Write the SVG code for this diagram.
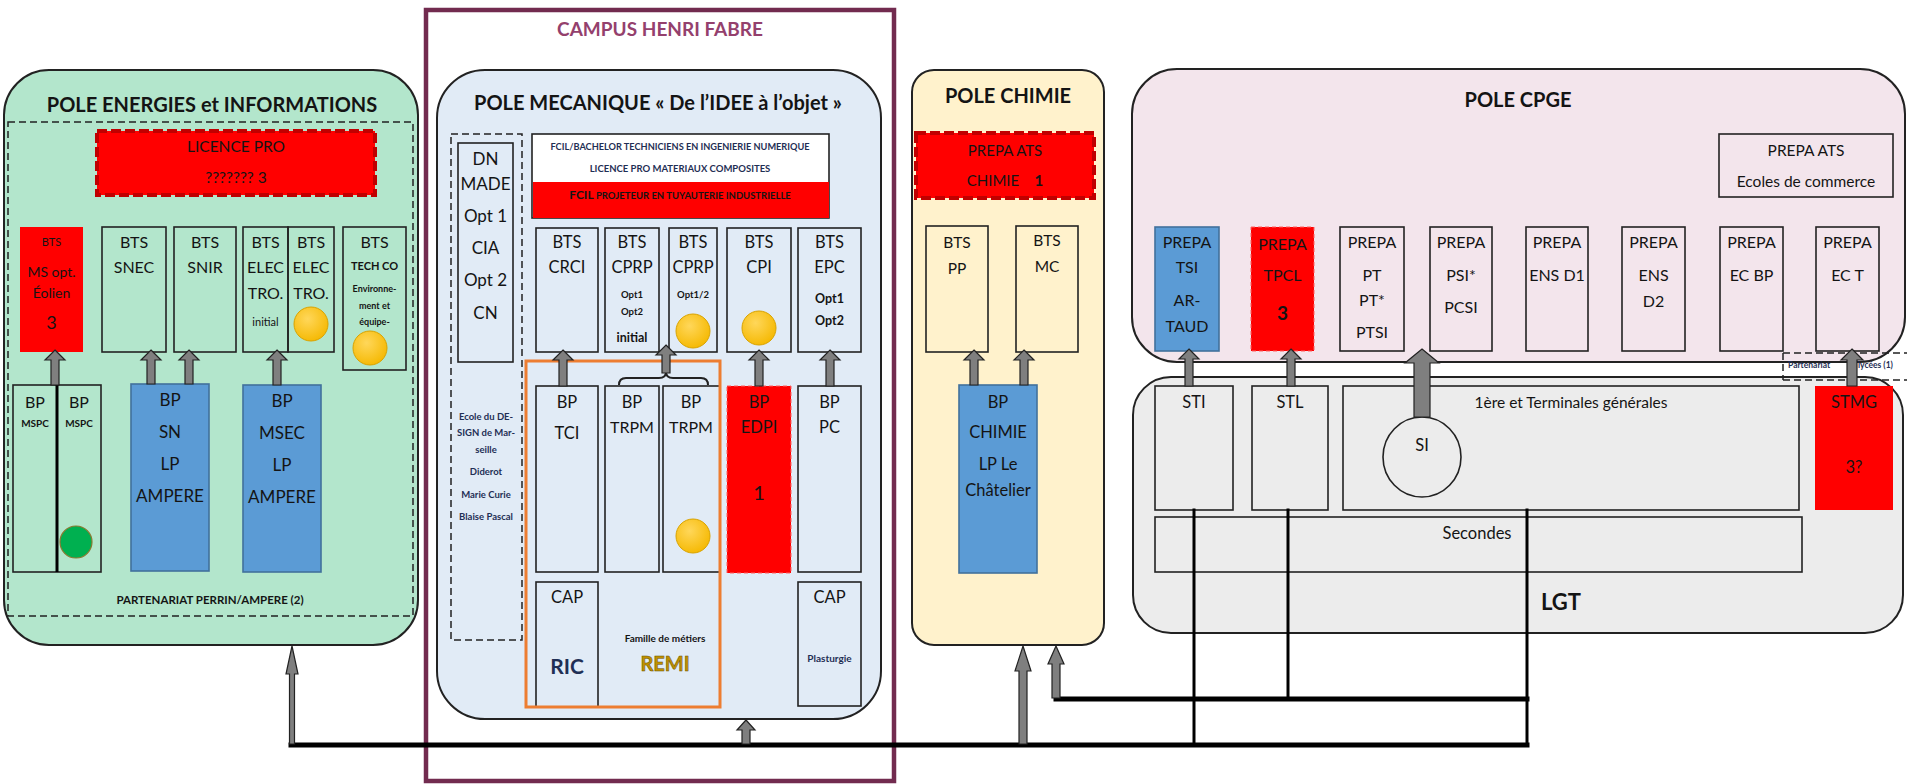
<svg xmlns="http://www.w3.org/2000/svg" width="1907" height="784" viewBox="0 0 1907 784">
<style>
text{font-family:Lato,"Open Sans","Liberation Sans",sans-serif;text-anchor:middle;fill:#141414}
.b{font-weight:bold}
.n{fill:#1f2f55}
.pole{stroke:#222;stroke-width:2}
.wb{stroke:#222;stroke-width:1.6}
.blue{fill:#5b9bd5;stroke:#41719c;stroke-width:1.6}
.red{fill:#ff0000}
.rdash{fill:#ff0000;stroke:#c00000;stroke-width:4;stroke-dasharray:10 4}
.dash{fill:none;stroke:#222;stroke-width:1.5;stroke-dasharray:7 4}
.blk{fill:#7f7f7f;stroke:#222;stroke-width:1.2}
.yel{fill:url(#gy);stroke:#d9a300;stroke-width:1}
.ln{fill:none;stroke:#000;stroke-linecap:square}
</style>
<defs>
<radialGradient id="gy" cx="0.4" cy="0.35" r="0.7">
<stop offset="0" stop-color="#ffd75a"/><stop offset="1" stop-color="#f5b800"/>
</radialGradient>
</defs>
<rect width="1907" height="784" fill="#fff"/>

<g id="campus-henri-fabre">
<rect x="426" y="10" width="468" height="771" fill="none" stroke="#722b4f" stroke-width="4.5"/>
<text x="660" y="36" class="b" font-size="19" style="fill:#94406d">CAMPUS HENRI FABRE</text>
</g>

<g id="pole-energies">
<rect x="4" y="70" width="414" height="575" rx="45" fill="#b3e6cc" class="pole"/>
<text x="212" y="112" class="b" font-size="20">POLE ENERGIES et INFORMATIONS</text>
<rect x="8" y="122" width="405" height="494" class="dash"/>
<text x="210" y="604" class="b" font-size="11.5">PARTENARIAT PERRIN/AMPERE (2)</text>
</g>
<g id="licence-pro">
<rect x="97" y="131" width="278" height="64" class="rdash"/>
<text x="236" y="152" font-size="15.5">LICENCE PRO</text>
<text x="236" y="183" font-size="15.5">??????? 3</text>
</g>
<g id="bts-ms-eolien">
<rect x="20" y="227" width="63" height="125" class="red"/>
<text x="51.5" y="246" font-size="11">BTS</text>
<text x="51.5" y="277" font-size="14">MS opt.</text>
<text x="51.5" y="298" font-size="14">Éolien</text>
<text x="51.5" y="329" font-size="18">3</text>
</g>
<g id="bts-snec">
<rect x="102" y="227" width="64" height="125" fill="none" class="wb"/>
<text x="134" y="248" font-size="16">BTS</text>
<text x="134" y="273" font-size="16">SNEC</text>
</g>
<g id="bts-snir">
<rect x="174" y="227" width="62" height="125" fill="none" class="wb"/>
<text x="205" y="248" font-size="16">BTS</text>
<text x="205" y="273" font-size="16">SNIR</text>
</g>
<g id="bts-electro-initial">
<rect x="243" y="227" width="45" height="125" fill="none" class="wb"/>
<text x="265.5" y="248" font-size="16">BTS</text>
<text x="265.5" y="273" font-size="16">ELEC</text>
<text x="265.5" y="299" font-size="16">TRO.</text>
<text x="265.5" y="326" font-size="11">initial</text>
</g>
<g id="bts-electro">
<rect x="288" y="227" width="46" height="125" fill="none" class="wb"/>
<text x="311" y="248" font-size="16">BTS</text>
<text x="311" y="273" font-size="16">ELEC</text>
<text x="311" y="299" font-size="16">TRO.</text>
<circle cx="311" cy="324" r="17" class="yel"/>
</g>
<g id="bts-tech-co">
<rect x="343" y="227" width="63" height="143" fill="none" class="wb"/>
<text x="374.5" y="248" font-size="16">BTS</text>
<text x="374.5" y="270" class="b" font-size="11">TECH CO</text>
<text x="374.5" y="292" class="b" font-size="9">Environne-</text>
<text x="374.5" y="309" class="b" font-size="9">ment et</text>
<text x="374.5" y="325" class="b" font-size="9">équipe-</text>
<circle cx="370" cy="348" r="17" class="yel"/>
</g>
<g id="bp-mspc">
<rect x="13" y="385" width="88" height="187" fill="none" class="wb"/>
<line x1="57" y1="385" x2="57" y2="572" stroke="#000" stroke-width="3"/>
<text x="35" y="408" font-size="16">BP</text>
<text x="35" y="427" class="b" font-size="10">MSPC</text>
<text x="79" y="408" font-size="16">BP</text>
<text x="79" y="427" class="b" font-size="10">MSPC</text>
<circle cx="76" cy="542" r="16" fill="#00b050" stroke="#8a7a30" stroke-width="1.2"/>
</g>
<g id="bp-sn-ampere">
<rect x="131" y="384" width="78" height="187" class="blue"/>
<text x="170" y="406" font-size="17">BP</text>
<text x="170" y="438" font-size="17">SN</text>
<text x="170" y="470" font-size="17">LP</text>
<text x="170" y="502" font-size="17">AMPERE</text>
</g>
<g id="bp-msec-ampere">
<rect x="243" y="385" width="78" height="187" class="blue"/>
<text x="282" y="407" font-size="17">BP</text>
<text x="282" y="439" font-size="17">MSEC</text>
<text x="282" y="471" font-size="17">LP</text>
<text x="282" y="503" font-size="17">AMPERE</text>
</g>

<g id="pole-mecanique">
<rect x="437" y="70" width="444" height="649" rx="48" fill="#e1ebf6" class="pole"/>
<text x="658" y="110" class="b" font-size="20">POLE MECANIQUE « De l’IDEE à l’objet »</text>
<rect x="451" y="134" width="71" height="506" class="dash"/>
</g>
<g id="dn-made">
<rect x="458" y="143" width="55" height="219" fill="none" class="wb"/>
<text x="485.5" y="165" font-size="17">DN</text>
<text x="485.5" y="190" font-size="17">MADE</text>
<text x="485.5" y="222" font-size="17">Opt 1</text>
<text x="485.5" y="254" font-size="17">CIA</text>
<text x="485.5" y="286" font-size="17">Opt 2</text>
<text x="485.5" y="319" font-size="17">CN</text>
<text x="486" y="420" class="b n" font-size="9.5">Ecole du DE-</text>
<text x="486" y="436" class="b n" font-size="9.5">SIGN de Mar-</text>
<text x="486" y="453" class="b n" font-size="9.5">seille</text>
<text x="486" y="475" class="b n" font-size="9.5">Diderot</text>
<text x="486" y="498" class="b n" font-size="9.5">Marie Curie</text>
<text x="486" y="520" class="b n" font-size="9.5">Blaise Pascal</text>
</g>
<g id="fcil">
<rect x="532" y="134" width="297" height="84" fill="#fff" class="wb"/>
<rect x="533" y="182" width="296" height="36" class="red"/>
<text x="680" y="150" class="b n" font-size="9.2">FCIL/BACHELOR TECHNICIENS EN INGENIERIE NUMERIQUE</text>
<text x="680" y="172" class="b n" font-size="9.5">LICENCE PRO MATERIAUX COMPOSITES</text>
<text x="680" y="199" class="b" font-size="9.5"><tspan font-size="12">FCIL</tspan> PROJETEUR EN TUYAUTERIE INDUSTRIELLE</text>
</g>
<g id="bts-crci">
<rect x="536" y="228" width="62" height="124" fill="none" class="wb"/>
<text x="567" y="248" font-size="16.5">BTS</text>
<text x="567" y="273" font-size="16.5">CRCI</text>
</g>
<g id="bts-cprp-initial">
<rect x="605" y="228" width="54" height="124" fill="none" class="wb"/>
<text x="632" y="248" font-size="16.5">BTS</text>
<text x="632" y="273" font-size="16.5">CPRP</text>
<text x="632" y="298" class="b" font-size="9.5">Opt1</text>
<text x="632" y="315" class="b" font-size="9.5">Opt2</text>
<text x="632" y="342" class="b" font-size="12.5">initial</text>
</g>
<g id="bts-cprp">
<rect x="669" y="228" width="48" height="124" fill="none" class="wb"/>
<text x="693" y="248" font-size="16.5">BTS</text>
<text x="693" y="273" font-size="16.5">CPRP</text>
<text x="693" y="298" class="b" font-size="9.5">Opt1/2</text>
<circle cx="693" cy="331" r="17" class="yel"/>
</g>
<g id="bts-cpi">
<rect x="727" y="228" width="64" height="124" fill="none" class="wb"/>
<text x="759" y="248" font-size="16.5">BTS</text>
<text x="759" y="273" font-size="16.5">CPI</text>
<circle cx="759" cy="328" r="17" class="yel"/>
</g>
<g id="bts-epc">
<rect x="798" y="228" width="63" height="124" fill="none" class="wb"/>
<text x="829.5" y="248" font-size="16.5">BTS</text>
<text x="829.5" y="273" font-size="16.5">EPC</text>
<text x="829.5" y="303" class="b" font-size="12.5">Opt1</text>
<text x="829.5" y="325" class="b" font-size="12.5">Opt2</text>
</g>
<g id="bp-tci">
<rect x="536" y="386" width="62" height="186" fill="none" class="wb"/>
<text x="567" y="408" font-size="16.5">BP</text>
<text x="567" y="439" font-size="16.5">TCI</text>
</g>
<g id="bp-trpm-1">
<rect x="605" y="386" width="54" height="186" fill="none" class="wb"/>
<text x="632" y="408" font-size="16.5">BP</text>
<text x="632" y="433" font-size="16">TRPM</text>
</g>
<g id="bp-trpm-2">
<rect x="663" y="386" width="57" height="186" fill="none" class="wb"/>
<text x="691" y="408" font-size="16.5">BP</text>
<text x="691" y="433" font-size="16">TRPM</text>
<circle cx="693" cy="536" r="17" class="yel"/>
</g>
<g id="bp-edpi">
<rect x="727" y="386" width="64" height="187" class="red" stroke="#ff6060" stroke-width="1" stroke-dasharray="4 3"/>
<text x="759" y="408" font-size="16.5">BP</text>
<text x="759" y="433" font-size="16.5">EDPI</text>
<text x="759" y="500" font-size="20">1</text>
</g>
<g id="bp-pc">
<rect x="798" y="386" width="63" height="186" fill="none" class="wb"/>
<text x="829.5" y="408" font-size="16.5">BP</text>
<text x="829.5" y="433" font-size="16.5">PC</text>
</g>
<g id="cap-ric">
<rect x="536" y="582" width="62" height="125" fill="none" class="wb"/>
<text x="567" y="603" font-size="16.5">CAP</text>
<text x="567" y="674" class="b n" font-size="21">RIC</text>
</g>
<g id="famille-remi">
<rect x="526" y="361" width="194" height="346" fill="none" stroke="#ed7d31" stroke-width="3"/>
<text x="665" y="642" class="b" font-size="10">Famille de métiers</text>
<text x="665" y="671" class="b" font-size="20" style="fill:#bf9000;stroke:#6b5200;stroke-width:0.5">REMI</text>
</g>
<g id="cap-plasturgie">
<rect x="798" y="582" width="63" height="124" fill="none" class="wb"/>
<text x="829.5" y="603" font-size="16.5">CAP</text>
<text x="829.5" y="662" class="b n" font-size="10">Plasturgie</text>
</g>

<g id="pole-chimie">
<rect x="912" y="70" width="192" height="575" rx="22" fill="#fff2cc" class="pole"/>
<text x="1008" y="103" class="b" font-size="20">POLE CHIMIE</text>
</g>
<g id="prepa-ats-chimie">
<rect x="916" y="133" width="178" height="65" class="rdash"/>
<text x="1005" y="156" font-size="15">PREPA ATS</text>
<text x="1005" y="186" font-size="15" xml:space="preserve">CHIMIE    <tspan class="b">1</tspan></text>
</g>
<g id="bts-pp">
<rect x="926" y="226" width="62" height="126" fill="none" class="wb"/>
<text x="957" y="248" font-size="15.5">BTS</text>
<text x="957" y="274" font-size="15.5">PP</text>
</g>
<g id="bts-mc">
<rect x="1016" y="226" width="62" height="126" fill="none" class="wb"/>
<text x="1047" y="246" font-size="15.5">BTS</text>
<text x="1047" y="272" font-size="15.5">MC</text>
</g>
<g id="bp-chimie">
<rect x="959" y="385" width="78" height="188" class="blue"/>
<text x="998" y="408" font-size="16.5">BP</text>
<text x="998" y="438" font-size="16.5">CHIMIE</text>
<text x="998" y="470" font-size="16.5">LP Le</text>
<text x="998" y="496" font-size="16.5">Châtelier</text>
</g>

<g id="pole-cpge">
<rect x="1132" y="69" width="773" height="293" rx="45" fill="#f3e5ec" class="pole"/>
<text x="1518" y="107" class="b" font-size="20">POLE CPGE</text>
</g>
<g id="prepa-ats-commerce">
<rect x="1719" y="134" width="174" height="63" fill="none" class="wb"/>
<text x="1806" y="156" font-size="15.5">PREPA ATS</text>
<text x="1806" y="187" font-size="15.5">Ecoles de commerce</text>
</g>
<g id="prepa-tsi">
<rect x="1155" y="227" width="64" height="124" class="blue"/>
<text x="1187" y="248" font-size="16">PREPA</text>
<text x="1187" y="273" font-size="16">TSI</text>
<text x="1187" y="306" font-size="16">AR-</text>
<text x="1187" y="332" font-size="16">TAUD</text>
</g>
<g id="prepa-tpcl">
<rect x="1251" y="227" width="63" height="124" class="red" stroke="#ff6060" stroke-width="1" stroke-dasharray="4 3"/>
<text x="1282.5" y="250" font-size="16">PREPA</text>
<text x="1282.5" y="281" font-size="16">TPCL</text>
<text x="1282.5" y="320" class="b" font-size="19">3</text>
</g>
<g id="prepa-pt">
<rect x="1340" y="227" width="64" height="124" fill="none" class="wb"/>
<text x="1372" y="248" font-size="16">PREPA</text>
<text x="1372" y="281" font-size="16">PT</text>
<text x="1372" y="306" font-size="16">PT*</text>
<text x="1372" y="338" font-size="16">PTSI</text>
</g>
<g id="prepa-psi">
<rect x="1430" y="227" width="62" height="124" fill="none" class="wb"/>
<text x="1461" y="248" font-size="16">PREPA</text>
<text x="1461" y="281" font-size="16">PSI*</text>
<text x="1461" y="313" font-size="16">PCSI</text>
</g>
<g id="prepa-ens-d1">
<rect x="1526" y="227" width="62" height="124" fill="none" class="wb"/>
<text x="1557" y="248" font-size="16">PREPA</text>
<text x="1557" y="281" font-size="16">ENS D1</text>
</g>
<g id="prepa-ens-d2">
<rect x="1622" y="227" width="63" height="124" fill="none" class="wb"/>
<text x="1653.5" y="248" font-size="16">PREPA</text>
<text x="1653.5" y="281" font-size="16">ENS</text>
<text x="1653.5" y="307" font-size="16">D2</text>
</g>
<g id="prepa-ec-bp">
<rect x="1720" y="227" width="63" height="124" fill="none" class="wb"/>
<text x="1751.5" y="248" font-size="16">PREPA</text>
<text x="1751.5" y="281" font-size="16">EC BP</text>
</g>
<g id="prepa-ec-t">
<rect x="1816" y="227" width="63" height="124" fill="none" class="wb"/>
<text x="1847.5" y="248" font-size="16">PREPA</text>
<text x="1847.5" y="281" font-size="16">EC T</text>
</g>

<g id="lgt">
<rect x="1133" y="377" width="770" height="256" rx="38" fill="#ececec" class="pole"/>
<text x="1561" y="610" class="b" font-size="22">LGT</text>
</g>
<g id="sti">
<rect x="1155" y="386" width="78" height="124" fill="none" class="wb"/>
<text x="1194" y="408" font-size="16.5">STI</text>
</g>
<g id="stl">
<rect x="1252" y="386" width="76" height="124" fill="none" class="wb"/>
<text x="1290" y="408" font-size="16.5">STL</text>
</g>
<g id="premiere-terminales">
<rect x="1343" y="386" width="456" height="124" fill="none" class="wb"/>
<text x="1571" y="408" font-size="15.5">1ère et Terminales générales</text>
</g>
<g id="si">
<ellipse cx="1422" cy="457" rx="39" ry="40" fill="#ececec" class="wb"/>
<text x="1422" y="451" font-size="16.5">SI</text>
</g>
<g id="secondes">
<rect x="1155" y="517" width="647" height="55" fill="none" class="wb"/>
<text x="1477" y="539" font-size="16.5">Secondes</text>
</g>
<g id="stmg">
<rect x="1815" y="386" width="78" height="124" class="red"/>
<text x="1854" y="408" font-size="16.5">STMG</text>
<text x="1854" y="473" font-size="16.5">3?</text>
</g>
<g id="partenariat-lycees">
<path d="M1783 353 H1907 M1783 380 H1907 M1783 353 V380" class="dash"/>
<text x="1788" y="368" class="b n" font-size="8.5" style="text-anchor:start">Partenariat</text>
<text x="1858" y="368" class="b n" font-size="8.5" style="text-anchor:start">lycées (1)</text>
</g>

<g id="connectors">
<path d="M619 385 Q619 378 626 378 L659 378 Q666 378 666 372 Q666 378 673 378 L701 378 Q708 378 708 385" fill="none" stroke="#222" stroke-width="2"/>
<path class="blk" d="M55 350 L65 360 L59 360 L59 385 L51 385 L51 360 L45 360 Z"/>
<path class="blk" d="M151 350 L161 360 L155 360 L155 384 L147 384 L147 360 L141 360 Z"/>
<path class="blk" d="M189 350 L199 360 L193 360 L193 384 L185 384 L185 360 L179 360 Z"/>
<path class="blk" d="M277 350 L287 360 L281 360 L281 385 L273 385 L273 360 L267 360 Z"/>
<path class="blk" d="M563 350 L573 360 L567 360 L567 386 L559 386 L559 360 L553 360 Z"/>
<path class="blk" d="M759 350 L769 360 L763 360 L763 386 L755 386 L755 360 L749 360 Z"/>
<path class="blk" d="M830 350 L840 360 L834 360 L834 386 L826 386 L826 360 L820 360 Z"/>
<path class="blk" d="M666 345 L676 355 L670 355 L670 373 L662 373 L662 355 L656 355 Z"/>
<path class="blk" d="M974 350 L984 360 L978 360 L978 385 L970 385 L970 360 L964 360 Z"/>
<path class="blk" d="M1024 350 L1034 360 L1028 360 L1028 385 L1020 385 L1020 360 L1014 360 Z"/>
<path class="blk" d="M1189 349 L1199 359 L1193 359 L1193 386 L1185 386 L1185 359 L1179 359 Z"/>
<path class="blk" d="M1291 349 L1301 359 L1295 359 L1295 386 L1287 386 L1287 359 L1281 359 Z"/>
<path class="blk" d="M1422 349 L1439 363 L1430 363 L1430 417 L1414 417 L1414 363 L1405 363 Z"/>
<path class="blk" d="M1852 349 L1863 360 L1857 360 L1857 386 L1847 386 L1847 360 L1841 360 Z"/>
<path class="ln" d="M1194 510 V745" stroke-width="3"/>
<path class="ln" d="M1288 510 V699" stroke-width="3"/>
<path class="ln" d="M1527 510 V745" stroke-width="3"/>
<path class="ln" d="M291 745 H1527" stroke-width="5"/>
<path class="ln" d="M1056 699 H1527" stroke-width="5"/>
<path class="blk" d="M292 646 L298 674 L294.5 674 L294.5 744 L289.5 744 L289.5 674 L286 674 Z"/>
<path class="blk" d="M746 720 L755 730 L750 730 L750 744 L742 744 L742 730 L737 730 Z"/>
<path class="blk" d="M1023 646 L1031 671 L1027 671 L1027 744 L1019 744 L1019 671 L1015 671 Z"/>
<path class="blk" d="M1056 646 L1064 664 L1060 664 L1060 698 L1052 698 L1052 664 L1048 664 Z"/>
</g>
</svg>
